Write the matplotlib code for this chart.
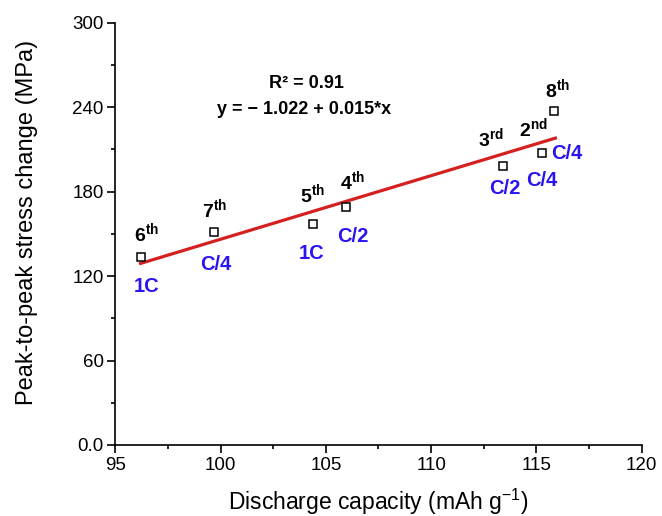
import numpy as np
import matplotlib
matplotlib.use("Agg")
import matplotlib.pyplot as plt
from matplotlib.ticker import MultipleLocator

# ── Data ──────────────────────────────────────────────────────────────────────
capacity = [96.2, 99.7, 104.4, 105.95, 113.4, 115.25, 115.85]
stress   = [133.3, 151.1, 157.0, 168.9, 198.2, 207.6, 237.5]
cycles   = ["6", "7", "5", "4", "3", "2", "8"]
suffixes = ["th", "th", "th", "th", "rd", "nd", "th"]
rates    = ["1C", "C/4", "1C", "C/2", "C/2", "C/4", "C/4"]

fit_x = [96.2, 115.9]
fit_y = [129.0, 218.0]

yticks      = [0, 60, 120, 180, 240, 300]
ytick_text  = ["0.0", "60", "120", "180", "240", "300"]
xticks      = [95, 100, 105, 110, 115, 120]

# label offsets in points (ordinal label above, rate label below)
ord_off  = [(4.3, 11.2), (0.5, 10.1), (-0.6, 14.9), (5.0, 12.5),
            (-8.8, 13.9), (-5.8, 11.1), (2.3, 8.9)]
rate_off = [(4.3, -20.7), (1.0, -23.5), (-1.2, -21.6), (5.3, -21.2),
            (1.7, -16.0), (0.0, -19.7), (8.9, -30.7)]

plt.rcParams["font.family"] = ["Liberation Sans", "DejaVu Sans"]
plt.rcParams["mathtext.fontset"] = "custom"
plt.rcParams["mathtext.rm"] = "Liberation Sans"
plt.rcParams["mathtext.bf"] = "Liberation Sans:bold"

fig = plt.figure(figsize=(6.62, 5.16), dpi=100)
ax = fig.add_axes([0.1742, 0.1376, 0.7951, 0.8184])

blue = "#2A14F0"

ax.plot(fit_x, fit_y, color="#D42020", lw=2.3, zorder=2)
ax.plot(capacity, stress, ls="none", marker="s", ms=6.3, mfc="white",
        mec="black", mew=1.1, zorder=3)

for i in range(len(capacity)):
    ax.annotate(rf"{cycles[i]}$^{{\mathbf{{{suffixes[i]}}}}}$",
                (capacity[i], stress[i]), xytext=ord_off[i],
                textcoords="offset points", ha="center", va="baseline",
                fontsize=14, fontweight="bold", color="black")
    ax.annotate(rates[i], (capacity[i], stress[i]), xytext=rate_off[i],
                textcoords="offset points", ha="center", va="center",
                fontsize=14.5, fontweight="bold", color=blue)

ax.text(0.364, 0.8565, "R² = 0.91", transform=ax.transAxes, ha="center",
        va="center", fontsize=13, fontweight="bold")
ax.text(0.359, 0.795, "y = − 1.022 + 0.015*x", transform=ax.transAxes,
        ha="center", va="center", fontsize=13, fontweight="bold")

ax.set_xlim(95, 120)
ax.set_ylim(0, 300)
ax.set_xticks(xticks)
ax.set_yticks(yticks)
ax.set_yticklabels(ytick_text)
ax.xaxis.set_minor_locator(MultipleLocator(2.5))
ax.yaxis.set_minor_locator(MultipleLocator(30))

ax.spines[["top", "right"]].set_visible(False)
for s in ["left", "bottom"]:
    ax.spines[s].set_linewidth(1.2)
ax.tick_params(which="major", length=5.5, width=1.2, labelsize=13.5, pad=3)
ax.tick_params(which="minor", length=3, width=1.2)

ax.set_xlabel("Discharge capacity (mAh g$^{-1}$)", fontsize=16.5, labelpad=9)
ax.set_ylabel("Peak-to-peak stress change (MPa)", fontsize=17)
ax.yaxis.set_label_coords(-0.147, 0.528)

fig.savefig("out.png", dpi=100)
